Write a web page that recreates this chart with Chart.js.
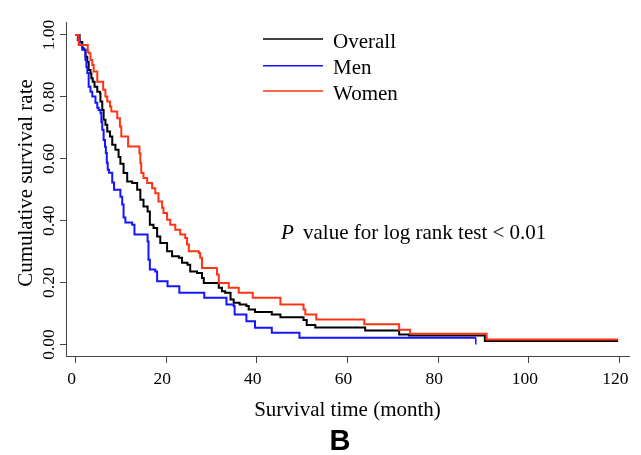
<!DOCTYPE html>
<html><head><meta charset="utf-8">
<script src="https://cdn.jsdelivr.net/npm/chart.js@4.4.1/dist/chart.umd.min.js"></script>
<style>html,body{margin:0;padding:0;background:#fff;} canvas{display:block;}</style>
</head><body>
<canvas id="c" width="641" height="455"></canvas>
<script>
const xTicks = [0, 20, 40, 60, 80, 100, 120];
const yTicks = [0, 0.2, 0.4, 0.6, 0.8, 1.0];
const seriesNames = ['Overall', 'Men', 'Women'];

const overallTime = [0, 0.9, 1.5, 1.8, 2.2, 2.6, 2.9, 3.3, 3.5, 3.8, 4.2, 4.8, 5.4, 5.5, 5.9, 6.2, 6.6, 7.0, 7.6, 8.1, 8.8, 9.5, 9.9, 10.6, 11.4, 12.5, 13.6, 14.3, 15.0, 15.9, 16.4, 17.2, 18.0, 18.7, 20.2, 21.3, 22.8, 23.5, 24.7, 25.3, 26.8, 27.9, 28.3, 31.6, 32.3, 33.0, 34.2, 34.9, 36.2, 37.7, 38.2, 39.6, 43.3, 45.2, 50.3, 51.0, 52.9, 63.9, 71.4, 73.6, 90.3, 119.7];
const overallSurv = [1.000, 0.977, 0.957, 0.952, 0.930, 0.913, 0.887, 0.876, 0.860, 0.849, 0.833, 0.817, 0.812, 0.785, 0.758, 0.726, 0.710, 0.688, 0.672, 0.645, 0.629, 0.606, 0.584, 0.554, 0.527, 0.522, 0.500, 0.468, 0.446, 0.430, 0.387, 0.376, 0.349, 0.328, 0.301, 0.285, 0.280, 0.264, 0.258, 0.236, 0.231, 0.215, 0.199, 0.183, 0.172, 0.167, 0.145, 0.135, 0.129, 0.124, 0.113, 0.105, 0.097, 0.088, 0.079, 0.063, 0.055, 0.045, 0.032, 0.029, 0.011, 0.011];

const menTime = [0, 0.5, 0.9, 1.5, 2.2, 2.4, 2.6, 2.9, 3.3, 3.7, 4.4, 4.8, 5.1, 5.5, 5.7, 5.9, 6.2, 6.5, 6.7, 6.9, 7.1, 7.4, 8.1, 8.5, 9.9, 10.3, 10.6, 11.0, 12.5, 13.0, 15.9, 16.1, 16.4, 17.6, 18.0, 20.3, 22.9, 28.4, 33.3, 34.9, 35.1, 37.7, 39.6, 43.3, 49.4, 88.3];
const menSurv = [1.000, 0.984, 0.968, 0.952, 0.919, 0.897, 0.877, 0.833, 0.817, 0.801, 0.781, 0.765, 0.758, 0.748, 0.719, 0.694, 0.661, 0.639, 0.619, 0.587, 0.565, 0.555, 0.523, 0.500, 0.477, 0.452, 0.410, 0.394, 0.387, 0.355, 0.333, 0.274, 0.242, 0.236, 0.204, 0.188, 0.167, 0.151, 0.129, 0.124, 0.097, 0.075, 0.054, 0.038, 0.022, 0.022];
const menCensorTime = [88.3];
const menCensorSurv = [0.011];

const womenTime = [0, 0.7, 2.7, 2.9, 3.3, 3.7, 4.0, 4.8, 6.1, 6.6, 7.0, 7.6, 7.9, 9.2, 9.8, 10.1, 11.6, 14.1, 14.3, 14.5, 15.0, 15.8, 16.9, 17.6, 18.3, 19.1, 19.4, 20.2, 20.9, 22.0, 23.1, 24.2, 24.6, 25.0, 27.2, 27.5, 27.9, 31.2, 31.6, 33.8, 36.0, 39.1, 45.2, 50.3, 50.7, 53.1, 63.7, 71.4, 73.8, 90.7, 119.7];
const womenSurv = [1.000, 0.968, 0.946, 0.941, 0.919, 0.903, 0.882, 0.849, 0.823, 0.801, 0.785, 0.769, 0.753, 0.731, 0.704, 0.672, 0.640, 0.618, 0.586, 0.554, 0.538, 0.522, 0.505, 0.489, 0.462, 0.442, 0.425, 0.403, 0.387, 0.371, 0.355, 0.344, 0.323, 0.301, 0.296, 0.280, 0.247, 0.226, 0.199, 0.183, 0.167, 0.151, 0.129, 0.113, 0.097, 0.081, 0.065, 0.048, 0.035, 0.016, 0.016];

const colors = {Overall: '#000000', Men: '#1414ff', Women: '#ff3414'};
const pts = (t, s) => t.map((v, i) => ({x: v, y: s[i]}));
const SERIF = "'Liberation Serif', 'Times New Roman', serif";

const overlay = {
  id: 'overlay',
  afterDraw(chart) {
    const ctx = chart.ctx;
    ctx.save();
    // y axis title
    ctx.save();
    ctx.translate(26, 183);
    ctx.rotate(-Math.PI / 2);
    ctx.fillStyle = '#000';
    ctx.font = "21px " + SERIF;
    ctx.textAlign = 'center';
    ctx.textBaseline = 'middle';
    ctx.fillText('Cumulative survival rate', 0, 0);
    ctx.restore();
    // legend
    const ly = [39, 65.7, 91];
    seriesNames.forEach((n, i) => {
      ctx.strokeStyle = colors[n];
      ctx.lineWidth = 1.5;
      ctx.beginPath();
      ctx.moveTo(263, ly[i]);
      ctx.lineTo(323, ly[i]);
      ctx.stroke();
      ctx.fillStyle = '#000';
      ctx.font = "21px " + SERIF;
      ctx.textBaseline = 'middle';
      ctx.textAlign = 'left';
      ctx.fillText(n, 333, ly[i] + 3);
    });
    // p-value annotation
    ctx.font = "italic 21px " + SERIF;
    ctx.fillText('P', 281, 233);
    ctx.font = "21px " + SERIF;
    ctx.fillText('value for log rank test < 0.01', 303, 233);
    // panel letter
    ctx.font = "bold 29px 'Liberation Sans', Arial, sans-serif";
    ctx.textAlign = 'center';
    ctx.fillText('B', 340, 442);
    ctx.restore();
  }
};

new Chart(document.getElementById('c'), {
  type: 'line',
  data: {
    datasets: [
      {label: 'Women', data: pts(womenTime, womenSurv), borderColor: colors.Women, borderWidth: 2, stepped: true, pointRadius: 0, fill: false},
      {label: 'Men', data: pts(menTime, menSurv), borderColor: colors.Men, borderWidth: 2, stepped: true, pointRadius: 0, fill: false},
      {label: 'Men censored', type: 'scatter', data: pts(menCensorTime, menCensorSurv), borderColor: colors.Men, backgroundColor: colors.Men, pointStyle: 'line', rotation: 90, pointRadius: 3.5, borderWidth: 1.5},
      {label: 'Overall', data: pts(overallTime, overallSurv), borderColor: colors.Overall, borderWidth: 2, stepped: true, pointRadius: 0, fill: false}
    ]
  },
  options: {
    responsive: false,
    devicePixelRatio: 1,
    animation: false,
    layout: {padding: {top: 22, left: 0, right: 12, bottom: 0}},
    plugins: {legend: {display: false}, tooltip: {enabled: false}},
    scales: {
      x: {
        type: 'linear', min: -2.1, max: 122.1,
        afterBuildTicks: s => { s.ticks = xTicks.map(v => ({value: v})); },
        afterFit: s => { s.height = 99; },
        grid: {drawOnChartArea: false, drawTicks: true, tickLength: 7, color: '#444', lineWidth: 1},
        border: {display: true, color: '#444', width: 1},
        ticks: {color: '#000', font: {family: SERIF, size: 17.5}, padding: 5.5, labelOffset: -4, maxRotation: 0, autoSkip: false, callback: v => String(v)},
        title: {display: true, text: 'Survival time (month)', color: '#000', font: {family: SERIF, size: 21}, padding: {top: 0, bottom: 32}}
      },
      y: {
        type: 'linear', min: -0.0372, max: 1.042,
        afterBuildTicks: s => { s.ticks = yTicks.map(v => ({value: v})); },
        afterFit: s => { s.width = 66; },
        grid: {drawOnChartArea: false, drawTicks: true, tickLength: 6, color: '#444', lineWidth: 1},
        border: {display: true, color: '#444', width: 1},
        ticks: {color: '#000', font: {family: SERIF, size: 17.5}, padding: -4.6, minRotation: 90, maxRotation: 90, crossAlign: 'center', autoSkip: false, callback: v => v.toFixed(2)},
        title: {display: false}
      }
    }
  },
  plugins: [overlay]
});
</script>
</body></html>
